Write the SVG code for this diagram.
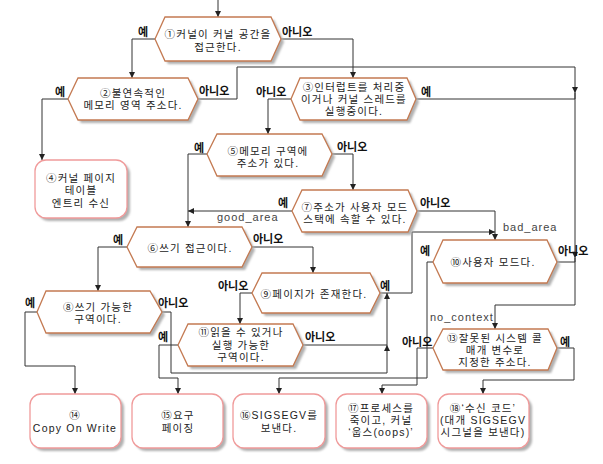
<svg xmlns="http://www.w3.org/2000/svg" width="603" height="464" viewBox="0 0 603 464">
<defs>
<filter id="blur" x="-10%" y="-10%" width="120%" height="130%"><feGaussianBlur stdDeviation="1.3"/></filter>
<marker id="a" markerWidth="6" markerHeight="6" refX="6" refY="3" orient="auto" markerUnits="userSpaceOnUse"><path d="M0,0 L6,3 L0,6 z" fill="#222"/></marker>
<style>
.hex{fill:#fff;stroke:#c47a52;stroke-width:1.3}
.res{fill:#fff;stroke:#f09a9a;stroke-width:1.3}
.sh{fill:#b0b0b0;stroke:none;filter:url(#blur)}
.t{font-family:"Liberation Sans","Noto Sans CJK KR",sans-serif;font-size:10.5px;fill:#222;text-anchor:middle;letter-spacing:1.2px}
.lb{font-family:"Liberation Sans","Noto Sans CJK KR",sans-serif;font-size:11px;font-weight:bold;fill:#111}
.en{font-family:"Liberation Sans",sans-serif;font-size:11px;fill:#444;letter-spacing:1px}
.c{fill:none;stroke:#333;stroke-width:1}
.ca{fill:none;stroke:#333;stroke-width:1;marker-end:url(#a)}
</style>
</defs>
<rect width="603" height="464" fill="#fff"/>

<g id="connectors">
<path class="ca" d="M218,0 V17"/>
<path class="ca" d="M155,39 H132 V78"/>
<path class="ca" d="M281,39 H353 V78"/>
<path class="ca" d="M68,99 H42 V160"/>
<path class="ca" d="M198,99 H237 V67 H575 V93"/>
<path class="c" d="M416,99 H575 V93"/>
<path class="ca" d="M575,93 V258"/>
<path class="c" d="M557,262 H575 V258"/>
<path class="ca" d="M575,258 V305 H495 V329"/>
<path class="ca" d="M291,99 H268 V134"/>
<path class="ca" d="M207,154 H188 V227"/>
<path class="ca" d="M332,154 H353 V190"/>
<path class="ca" d="M292,211 H188"/>
<path class="ca" d="M417,211 H495 V240"/>
<path class="ca" d="M380,293 H412 V232 H495"/>
<path class="ca" d="M127,247 H98 V291"/>
<path class="ca" d="M252,247 H313 V273"/>
<path class="ca" d="M433,262 H427 V378 H279 V394"/>
<path class="ca" d="M37,312 H25 V366 H75 V394"/>
<path class="ca" d="M162,312 H171 V373 H387 V345"/>
<path class="ca" d="M387,345 V293"/>
<path class="c" d="M303,345 H387"/>
<path class="ca" d="M252,293 H240 V324"/>
<path class="ca" d="M178,345 H159 V378 H178 V394"/>
<path class="ca" d="M557,348 H574 V380 H483 V394"/>
<path class="ca" d="M433,348 H417 V385 H382 V394"/>
<text class="lb" x="138" y="36">예</text>
<text class="lb" x="282" y="36">아니오</text>
<text class="lb" x="55" y="96">예</text>
<text class="lb" x="199" y="95">아니오</text>
<text class="lb" x="256" y="96">아니오</text>
<text class="lb" x="421" y="96">예</text>
<text class="lb" x="194" y="152">예</text>
<text class="lb" x="337" y="151">아니오</text>
<text class="lb" x="278" y="207">예</text>
<text class="lb" x="420" y="207">아니오</text>
<text class="en" x="217" y="221">good_area</text>
<text class="en" x="503" y="231">bad_area</text>
<text class="lb" x="113" y="244">예</text>
<text class="lb" x="253" y="243">아니오</text>
<text class="lb" x="420" y="255">예</text>
<text class="lb" x="558" y="255">아니오</text>
<text class="lb" x="25" y="307">예</text>
<text class="lb" x="158" y="307">아니오</text>
<text class="lb" x="218" y="290">아니오</text>
<text class="lb" x="380" y="290">예</text>
<text class="en" x="430" y="321">no_context</text>
<text class="lb" x="158" y="341">예</text>
<text class="lb" x="305" y="341">아니오</text>
<text class="lb" x="402" y="346">아니오</text>
<text class="lb" x="560" y="346">예</text>
</g>

<g id="n1">
<polygon class="sh" transform="translate(3,3)" points="155,39 165,17 271,17 281,39 271,61 165,61"/>
<polygon class="hex" points="155,39 165,17 271,17 281,39 271,61 165,61"/>
<text class="t" x="218" y="38">①커널이 커널 공간을</text>
<text class="t" x="218" y="51">접근한다.</text>
</g>
<g id="n2">
<polygon class="sh" transform="translate(3,3)" points="68,99 78,78 188,78 198,99 188,120 78,120"/>
<polygon class="hex" points="68,99 78,78 188,78 198,99 188,120 78,120"/>
<text class="t" x="133" y="97">②불연속적인</text>
<text class="t" x="133" y="109">메모리 영역 주소다.</text>
</g>
<g id="n3">
<polygon class="sh" transform="translate(3,3)" points="291,99 300,78 407,78 416,99 407,120 300,120"/>
<polygon class="hex" points="291,99 300,78 407,78 416,99 407,120 300,120"/>
<text class="t" x="354" y="91">③인터럽트를 처리중</text>
<text class="t" x="354" y="103">이거나 커널 스레드를</text>
<text class="t" x="354" y="115">실행중이다.</text>
</g>
<g id="n4">
<rect class="sh" x="38" y="163" width="92" height="58" rx="11"/>
<rect class="res" x="35" y="160" width="92" height="58" rx="11"/>
<text class="t" x="81" y="182">④커널 페이지</text>
<text class="t" x="81" y="194">테이블</text>
<text class="t" x="81" y="207">엔트리 수신</text>
</g>
<g id="n5">
<polygon class="sh" transform="translate(3,3)" points="207,154 217,134 322,134 332,154 322,176 217,176"/>
<polygon class="hex" points="207,154 217,134 322,134 332,154 322,176 217,176"/>
<text class="t" x="268" y="155">⑤메모리 구역에</text>
<text class="t" x="268" y="167">주소가 있다.</text>
</g>
<g id="n7">
<polygon class="sh" transform="translate(3,3)" points="292,211 302,190 408,190 417,211 408,232 302,232"/>
<polygon class="hex" points="292,211 302,190 408,190 417,211 408,232 302,232"/>
<text class="t" x="355" y="211">⑦주소가 사용자 모드</text>
<text class="t" x="355" y="223">스택에 속할 수 있다.</text>
</g>
<g id="n6">
<polygon class="sh" transform="translate(3,3)" points="127,247 137,227 242,227 252,247 242,267 137,267"/>
<polygon class="hex" points="127,247 137,227 242,227 252,247 242,267 137,267"/>
<text class="t" x="190" y="252">⑥쓰기 접근이다.</text>
</g>
<g id="n10">
<polygon class="sh" transform="translate(3,3)" points="433,262 443,240 547,240 557,262 547,283 443,283"/>
<polygon class="hex" points="433,262 443,240 547,240 557,262 547,283 443,283"/>
<text class="t" x="493" y="266">⑩사용자 모드다.</text>
</g>
<g id="n8">
<polygon class="sh" transform="translate(3,3)" points="37,312 46,291 150,291 162,312 150,333 46,333"/>
<polygon class="hex" points="37,312 46,291 150,291 162,312 150,333 46,333"/>
<text class="t" x="98" y="311">⑧쓰기 가능한</text>
<text class="t" x="98" y="323">구역이다.</text>
</g>
<g id="n9">
<polygon class="sh" transform="translate(3,3)" points="252,293 262,273 370,273 380,293 370,313 262,313"/>
<polygon class="hex" points="252,293 262,273 370,273 380,293 370,313 262,313"/>
<text class="t" x="314" y="298">⑨페이지가 존재한다.</text>
</g>
<g id="n11">
<polygon class="sh" transform="translate(3,3)" points="178,345 188,324 293,324 303,345 293,366 188,366"/>
<polygon class="hex" points="178,345 188,324 293,324 303,345 293,366 188,366"/>
<text class="t" x="241" y="336">⑪읽을 수 있거나</text>
<text class="t" x="241" y="349">실행 가능한</text>
<text class="t" x="241" y="361">구역이다.</text>
</g>
<g id="n13">
<polygon class="sh" transform="translate(3,3)" points="433,348 443,329 548,329 557,348 548,370 443,370"/>
<polygon class="hex" points="433,348 443,329 548,329 557,348 548,370 443,370"/>
<text class="t" x="495" y="342">⑬잘못된 시스템 콜</text>
<text class="t" x="495" y="354">매개 변수로</text>
<text class="t" x="495" y="366">지정한 주소다.</text>
</g>
<g id="r14">
<rect class="sh" x="33" y="397" width="91" height="54" rx="11"/>
<rect class="res" x="30" y="394" width="91" height="54" rx="11"/>
<text class="t" x="75" y="419">⑭</text>
<text class="t" x="75" y="432">Copy On Write</text>
</g>
<g id="r15">
<rect class="sh" x="135" y="397" width="91" height="54" rx="11"/>
<rect class="res" x="132" y="394" width="91" height="54" rx="11"/>
<text class="t" x="178" y="419">⑮요구</text>
<text class="t" x="178" y="432">페이징</text>
</g>
<g id="r16">
<rect class="sh" x="236" y="397" width="92" height="54" rx="11"/>
<rect class="res" x="233" y="394" width="92" height="54" rx="11"/>
<text class="t" x="279" y="419">⑯SIGSEGV를</text>
<text class="t" x="279" y="432">보낸다.</text>
</g>
<g id="r17">
<rect class="sh" x="339" y="397" width="91" height="54" rx="11"/>
<rect class="res" x="336" y="394" width="91" height="54" rx="11"/>
<text class="t" x="381" y="412">⑰프로세스를</text>
<text class="t" x="381" y="424">죽이고, 커널</text>
<text class="t" x="381" y="436">‘웁스(oops)’</text>
</g>
<g id="r18">
<rect class="sh" x="441" y="397" width="91" height="54" rx="11"/>
<rect class="res" x="438" y="394" width="91" height="54" rx="11"/>
<text class="t" x="483" y="412">⑱‘수신 코드’</text>
<text class="t" x="483" y="424">(대개 SIGSEGV</text>
<text class="t" x="483" y="436">시그널을 보낸다)</text>
</g>
</svg>
